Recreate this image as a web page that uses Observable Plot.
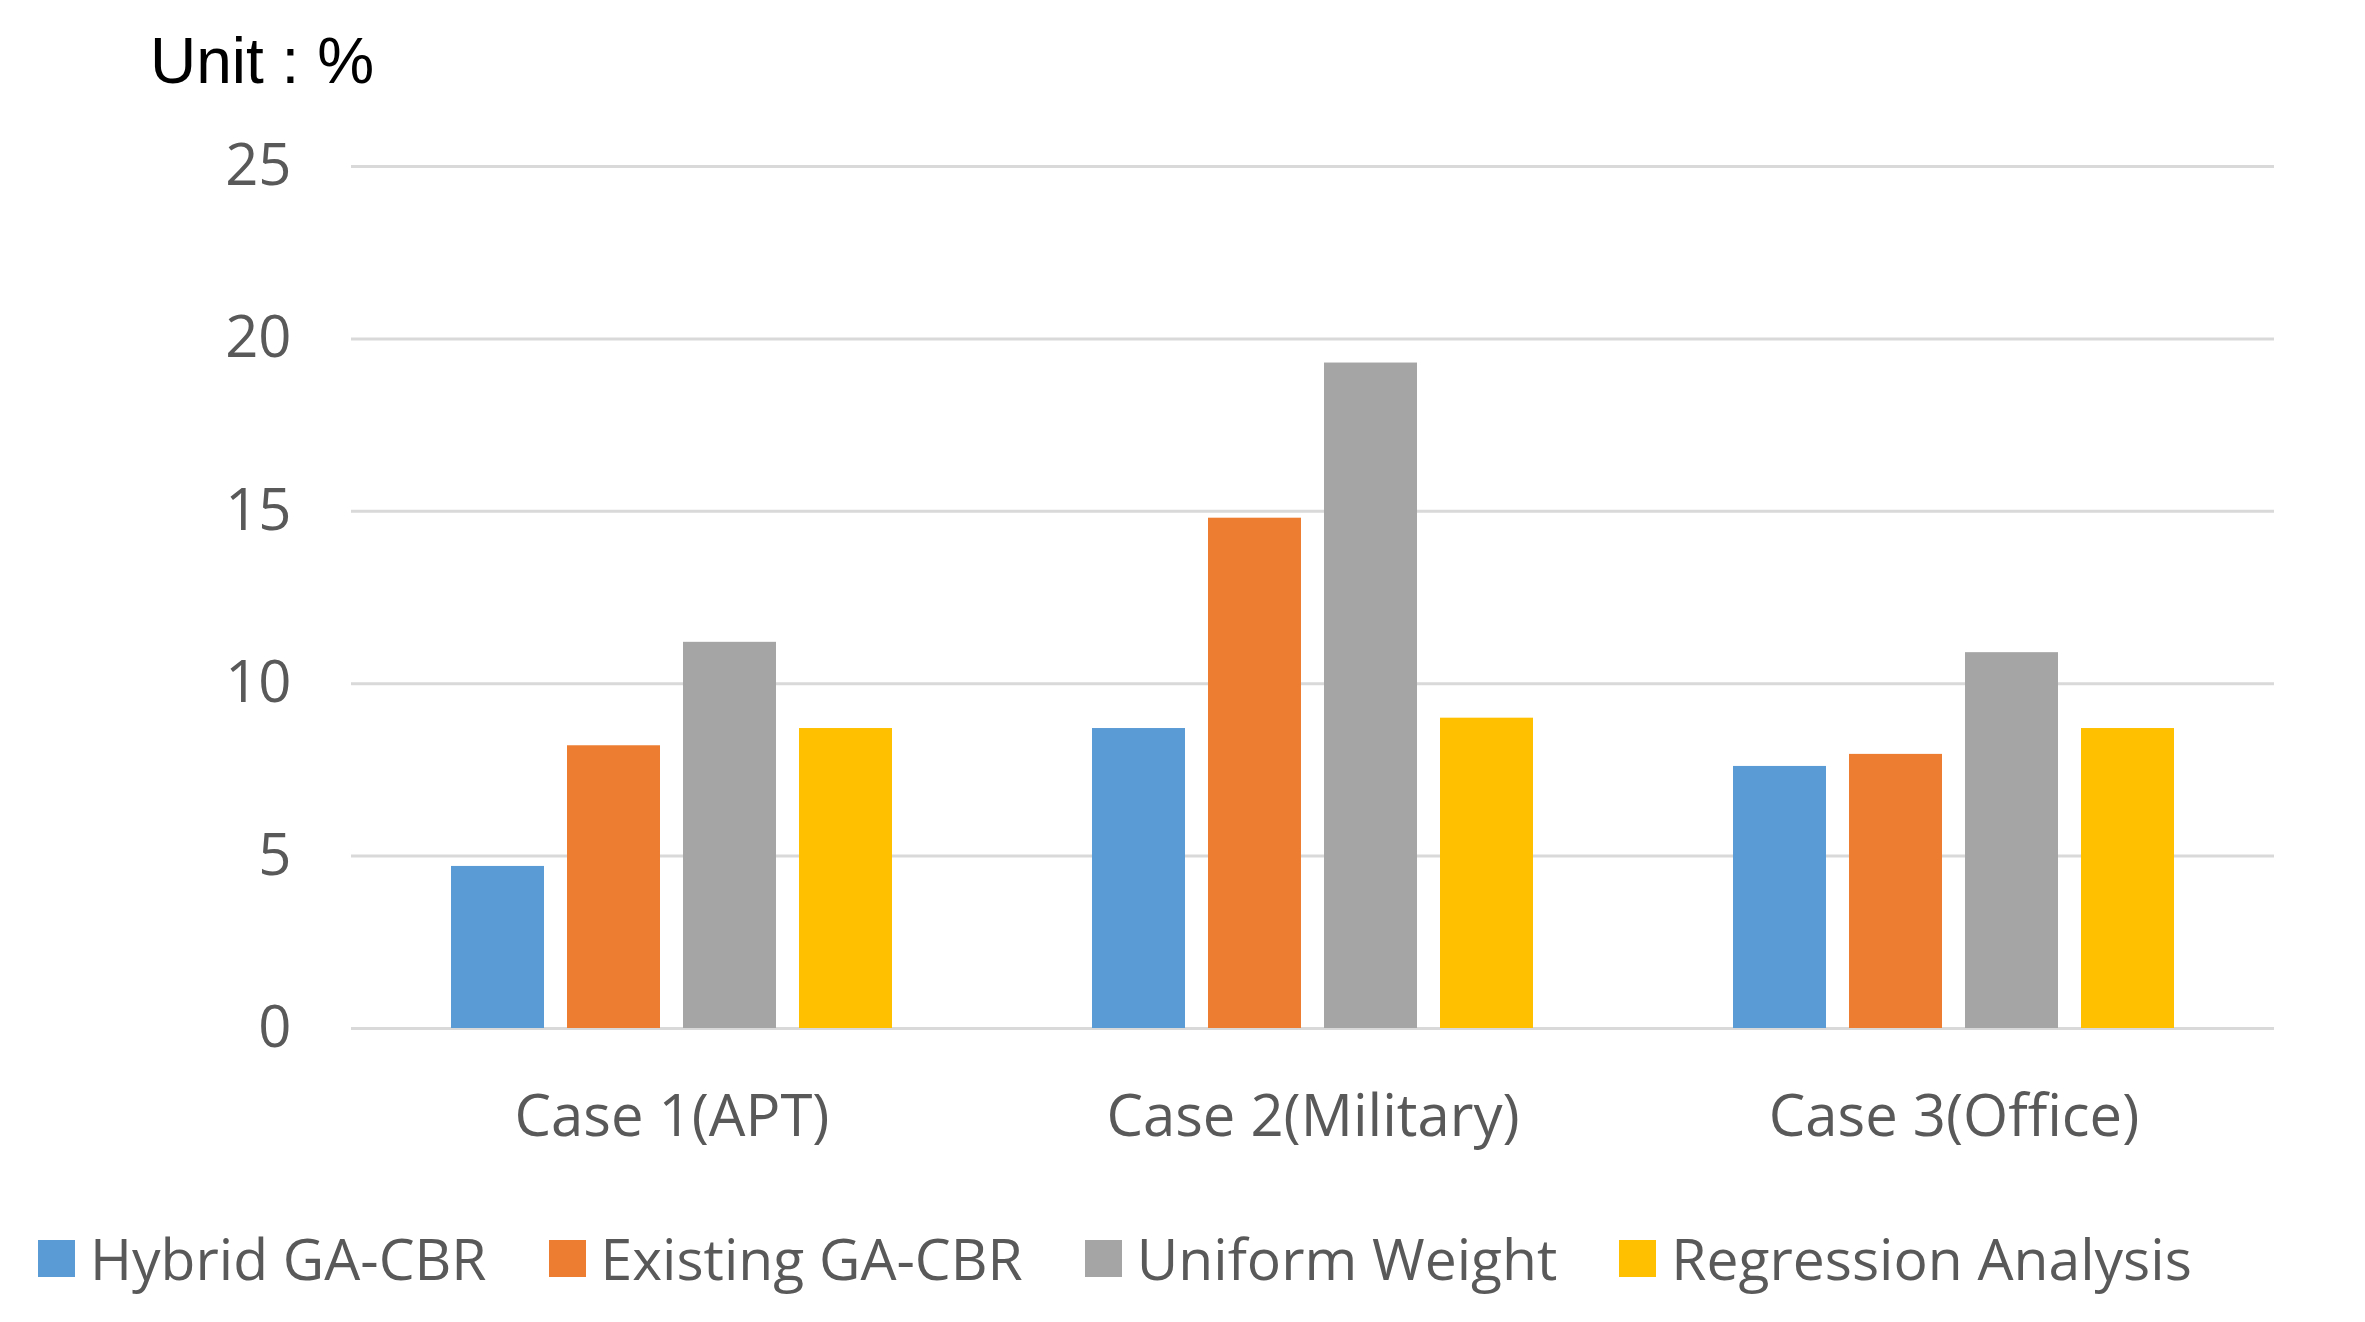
<!DOCTYPE html>
<html>
<head>
<meta charset="utf-8">
<script src="https://cdn.jsdelivr.net/npm/d3@7"></script>
<script src="https://cdn.jsdelivr.net/npm/@observablehq/plot@0.6"></script>
<style>
  html, body { margin: 0; padding: 0; background: #fff; }
  #wrap { width: 2365px; height: 1322px; overflow: hidden; }
  #unit { height: 110px; box-sizing: border-box; padding-left: 150px; padding-top: 29px;
          font-family: "Liberation Sans", Arial, sans-serif; font-size: 64px; line-height: 1; color: #000; }
  #legend { height: 132px; display: flex; align-items: center; gap: 62px; padding-left: 38px; padding-top: 4px; box-sizing: border-box;
            font-family: "Open Sans", sans-serif; font-size: 57px; color: #595959; }
  .item { display: flex; align-items: center; gap: 15px; }
  .sw { width: 37px; height: 37px; }
</style>
</head>
<body>
<div id="wrap">
  <div id="unit">Unit : %</div>
  <div id="chart"></div>
  <div id="legend"></div>
</div>
<script>
const cases = ["Case 1(APT)", "Case 2(Military)", "Case 3(Office)"];
const series = ["Hybrid GA-CBR", "Existing GA-CBR", "Uniform Weight", "Regression Analysis"];
const colors = ["#5b9bd5", "#ed7d31", "#a5a5a5", "#ffc000"];
const hybrid = [4.7, 8.7, 7.6];
const existing = [8.2, 14.8, 7.95];
const uniform = [11.2, 19.3, 10.9];
const regression = [8.7, 9.0, 8.7];
const yTicks = [0, 5, 10, 15, 20, 25];

const valuesBySeries = [hybrid, existing, uniform, regression];
const data = [];
cases.forEach((c, i) => {
  series.forEach((s, j) => data.push({case: c, series: s, value: valuesBySeries[j][i]}));
});

const chart = Plot.plot({
  width: 2365,
  height: 1080,
  marginTop: 56,
  marginBottom: 162,
  marginLeft: 350,
  marginRight: 91,
  style: {fontFamily: "'Open Sans', sans-serif", fontSize: "58px", color: "#595959", background: "#fff"},
  fx: {domain: cases, padding: 0, axis: "bottom", label: null, tickSize: 0, tickPadding: 66},
  x: {domain: series, axis: null, paddingInner: 0.2, paddingOuter: 0.84},
  y: {domain: [0, 25], ticks: yTicks, tickSize: 0, tickPadding: 60, label: null, tickFormat: d => String(d)},
  color: {domain: series, range: colors},
  marks: [
    Plot.ruleY(yTicks, {stroke: "#d9d9d9", strokeWidth: 3}),
    Plot.barY(data, {fx: "case", x: "series", y: "value", fill: "series"})
  ]
});
document.getElementById("chart").appendChild(chart);

const legend = document.getElementById("legend");
series.forEach((s, j) => {
  const it = document.createElement("div");
  it.className = "item";
  const sw = document.createElement("div");
  sw.className = "sw";
  sw.style.background = colors[j];
  const tx = document.createElement("span");
  tx.textContent = s;
  it.appendChild(sw);
  it.appendChild(tx);
  legend.appendChild(it);
});
</script>
</body>
</html>
